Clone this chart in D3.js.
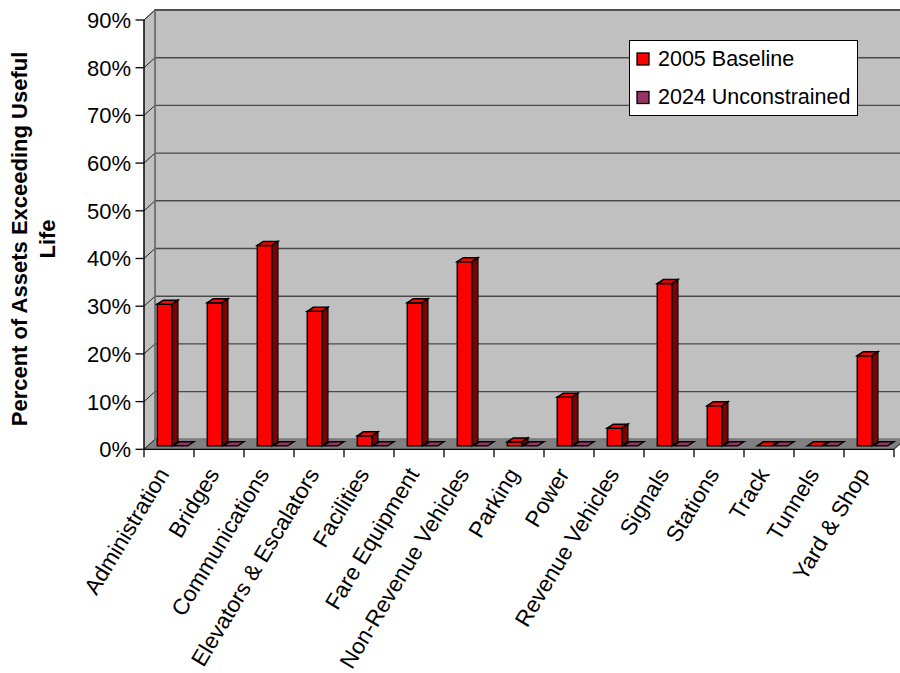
<!DOCTYPE html>
<html><head><meta charset="utf-8">
<script src="https://cdn.jsdelivr.net/npm/d3@7"></script>
<style>body{margin:0;background:#fff;overflow:hidden}svg{display:block;font-family:"Liberation Sans",Arial,sans-serif}</style>
</head><body>
<script>
const categories = ["Administration","Bridges","Communications","Elevators & Escalators","Facilities","Fare Equipment","Non-Revenue Vehicles","Parking","Power","Revenue Vehicles","Signals","Stations","Track","Tunnels","Yard & Shop"];
const baseline2005 = [29.7, 30.0, 42.0, 28.2, 2.1, 30.0, 38.6, 0.8, 10.2, 3.7, 34.0, 8.4, 0, 0, 18.9];
const unconstrained2024 = [0, 0, 0, 0, 0, 0, 0, 0, 0, 0, 0, 0, 0, 0, 0];
const seriesNames = ["2005 Baseline", "2024 Unconstrained"];
const yTicks = [0, 10, 20, 30, 40, 50, 60, 70, 80, 90];
const yTitleLines = ["Percent of Assets Exceeding Useful", "Life"];

const W = 900, H = 673;
const svg = d3.select("body").append("svg").attr("width", W).attr("height", H);

const x = d3.scaleBand().domain(categories).range([144, 894]).padding(0);
const y = d3.scaleLinear().domain([0, 90]).range([449.3, 20]);
const DX = 11, DY = -10;          // wall depth
const BDX = 6, BDY = -4;          // bar depth
const PLANE = -3.5;               // bar front plane offset

const colors = [{front:"#ff0000", side:"#800000", top:"#ff0000"}, {front:"#993366", side:"#4d1a33", top:"#993366"}];
const pt = a => a.map(p => p.join(",")).join(" ");

const x0 = x.range()[0], x1 = x.range()[1];
const yTop = y(90), yBot = y(0);

// back wall
svg.append("rect").attr("x", x0 + DX).attr("y", yTop + DY).attr("width", x1 - x0).attr("height", yBot - yTop)
  .attr("fill", "#c0c0c0").attr("stroke", "#707070").attr("stroke-width", 2);
// side wall
svg.append("polygon").attr("points", pt([[x0, yBot], [x0, yTop], [x0 + DX, yTop + DY], [x0 + DX, yBot + DY]]))
  .attr("fill", "#c0c0c0").attr("stroke", "#707070").attr("stroke-width", 1);
// floor
svg.append("polygon").attr("points", pt([[x0, yBot], [x1, yBot], [x1 + DX, yBot + DY], [x0 + DX, yBot + DY]]))
  .attr("fill", "#808080");

// gridlines
yTicks.filter(t => t > 0).forEach(t => {
  svg.append("line").attr("x1", x0 + DX).attr("x2", x1 + DX).attr("y1", y(t) + DY).attr("y2", y(t) + DY)
    .attr("stroke", "#4a4a4a").attr("stroke-width", 1.4);
});
yTicks.forEach(t => {
  svg.append("line").attr("x1", x0).attr("x2", x0 + DX).attr("y1", y(t)).attr("y2", y(t) + DY)
    .attr("stroke", "#222").attr("stroke-width", 1);
});
svg.append("line").attr("x1", x0 + DX).attr("x2", x0 + DX).attr("y1", yTop + DY).attr("y2", yBot + DY)
  .attr("stroke", "#707070").attr("stroke-width", 1.5);

// axes
svg.append("line").attr("x1", x0).attr("x2", x0).attr("y1", yTop).attr("y2", yBot).attr("stroke", "#000").attr("stroke-width", 1.3);
svg.append("line").attr("x1", x0).attr("x2", x1).attr("y1", yBot).attr("y2", yBot).attr("stroke", "#000").attr("stroke-width", 1.3);
svg.append("line").attr("x1", x1).attr("x2", x1 + DX).attr("y1", yBot).attr("y2", yBot + DY).attr("stroke", "#000").attr("stroke-width", 1);
yTicks.forEach(t => {
  svg.append("line").attr("x1", 135.5).attr("x2", x0).attr("y1", y(t)).attr("y2", y(t)).attr("stroke", "#000").attr("stroke-width", 1.3);
  svg.append("text").attr("x", 131).attr("y", y(t)).attr("dy", "0.36em").attr("text-anchor", "end")
    .attr("font-size", 22).attr("fill", "#000").text(t + "%");
});
const bounds = categories.map(c => x(c)).concat([x1]);
bounds.forEach(b => {
  svg.append("line").attr("x1", b).attr("x2", b).attr("y1", yBot).attr("y2", yBot + 8).attr("stroke", "#000").attr("stroke-width", 1.3);
});

// bars
const series = [baseline2005, unconstrained2024];
categories.forEach((c, i) => {
  series.forEach((vals, s) => {
    const col = colors[s];
    const bx = x(c) + 13.3 + s * 16;
    const bw = 14.5;
    const yb = y(0) + PLANE, yt = y(vals[i]) + PLANE;
    const g = svg.append("g").attr("stroke", "#000").attr("stroke-width", 1.5).attr("stroke-linejoin", "miter");
    if (yb - yt > 0.5) {
      g.append("polygon").attr("points", pt([[bx + bw, yt], [bx + bw + BDX, yt + BDY], [bx + bw + BDX, yb + BDY], [bx + bw, yb]])).attr("fill", col.side);
      g.append("rect").attr("x", bx).attr("y", yt).attr("width", bw).attr("height", yb - yt).attr("fill", col.front);
    }
    g.append("polygon").attr("points", pt([[bx, yt], [bx + BDX, yt + BDY], [bx + bw + BDX, yt + BDY], [bx + bw, yt]])).attr("fill", col.top);
  });
});

// category labels
categories.forEach(c => {
  const cx = x(c) + x.bandwidth() / 2 + 1;
  svg.append("text").attr("transform", `translate(${cx},474) rotate(-59)`).attr("text-anchor", "end")
    .attr("font-size", 22.5).attr("fill", "#000").text(c);
});

// y title
const yt = svg.append("text").attr("transform", "translate(27,239) rotate(-90)").attr("text-anchor", "middle")
  .attr("font-size", 22).attr("font-weight", "bold").attr("fill", "#000");
yTitleLines.forEach((l, i) => yt.append("tspan").attr("x", 0).attr("y", i * 28).text(l));

// legend
const lg = svg.append("g");
lg.append("rect").attr("x", 629.5).attr("y", 40.5).attr("width", 228).attr("height", 75).attr("fill", "#fff").attr("stroke", "#000").attr("stroke-width", 1);
seriesNames.forEach((n, i) => {
  const yy = 53 + i * 38.5;
  lg.append("rect").attr("x", 637).attr("y", yy).attr("width", 12).attr("height", 12).attr("fill", colors[i].front).attr("stroke", "#000").attr("stroke-width", 1.3);
  lg.append("text").attr("x", 658).attr("y", yy + 12.5).attr("font-size", 21.5).attr("fill", "#000").text(n);
});
</script>
</body></html>
